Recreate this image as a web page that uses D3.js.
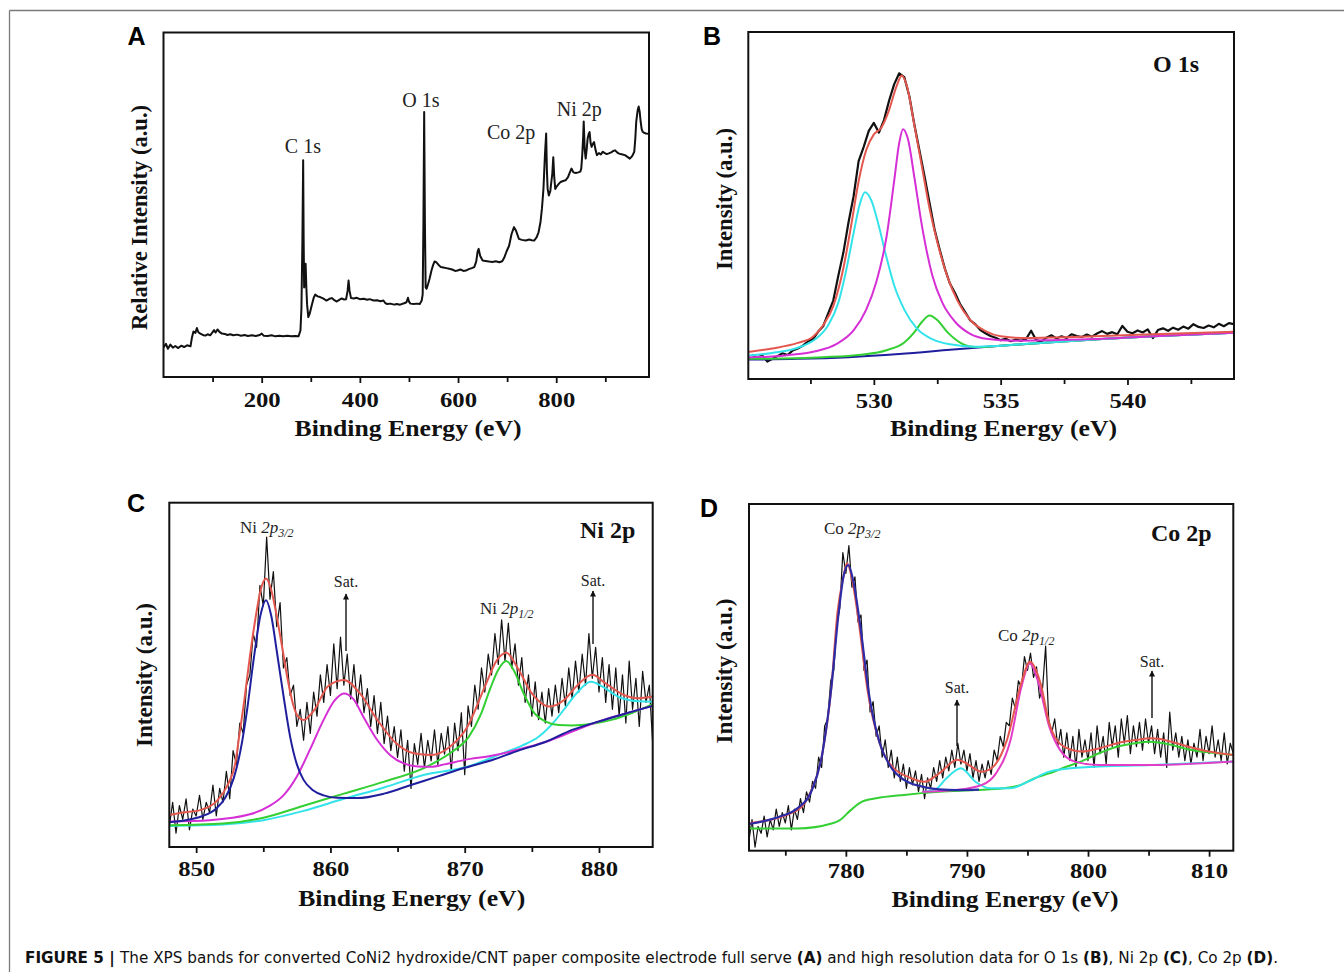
<!DOCTYPE html>
<html>
<head>
<meta charset="utf-8">
<script src="https://cdn.jsdelivr.net/npm/d3@7"></script>
<style>
  body { margin: 0; background: #fff; }
  svg { display: block; }
</style>
</head>
<body>
<svg id="fig" width="1344" height="972"></svg>
<script>
// ---------- Survey spectrum (A): [binding energy eV, relative intensity] ----------
const surveySpectrum = [[0,8.6],[5,9.6],[9,8.2],[14,9.4],[19,8.5],[24,9.0],[30,8.4],[36,9.1],[42,8.7],[48,9.2],[55,8.9],[58,11.5],[61,13.2],[65,12.8],[68,14.2],[71,13.0],[75,12.6],[80,12.2],[85,12.0],[90,12.4],[95,12.1],[99,12.8],[103,13.6],[106,12.9],[110,13.8],[114,13.1],[119,12.6],[125,12.5],[130,12.2],[136,12.4],[142,12.1],[150,12.3],[158,12.0],[165,12.2],[172,11.9],[180,12.1],[188,11.9],[196,12.2],[200,12.6],[204,12.0],[212,11.9],[220,12.1],[228,11.8],[236,12.0],[244,11.8],[252,12.0],[260,11.8],[268,11.9],[275,11.8],[279,13.5],[281,20],[283,40],[284.5,62.9],[285.5,40],[286.5,26],[288,27],[289.5,32.9],[291,26],[292.5,21],[295,17.4],[298,18.5],[302,20.8],[306,23],[309,23.9],[314,23.4],[319,23.2],[325,22.8],[332,22.2],[338,22.7],[343,22.9],[348,22.3],[353,21.9],[358,22.4],[363,22.8],[368,22.5],[372,22.6],[375,25],[377,28],[379,25],[382,22.9],[388,22.8],[393,23.0],[400,22.6],[408,22.7],[415,22.4],[420,22.6],[428,22.2],[435,22.3],[442,22.0],[448,22.2],[452,21.4],[456,21.2],[462,21.3],[470,21.0],[475,21.2],[482,21.0],[490,21.4],[495,21.7],[498,23.0],[500,21.9],[503,21.3],[510,21.2],[516,21.3],[522,21.2],[526,22.2],[528,24],[529.5,45],[531,76.9],[532.5,45],[534,26],[536,25.6],[539,27],[542,28.5],[546,31],[549,32.4],[552,33.5],[555,33.4],[560,32.6],[565,31.9],[570,31.8],[576,31.6],[582,31.4],[588,31.2],[594,30.8],[599,30.9],[605,31.2],[611,30.8],[616,30.9],[622,31.3],[628,31.6],[633,31.9],[637,33.5],[640,36.5],[642,37.2],[645,35.2],[650,33.8],[656,33.7],[663,33.5],[670,33.4],[677,33.6],[684,33.3],[690,33.6],[694,34.6],[699,36.5],[704,38.1],[709,41.5],[714,43.5],[718,42.5],[724,40.1],[730,39.8],[738,39.6],[745,39.9],[750,39.7],[755,39.6],[760,40.5],[764,42],[768,45],[771,49],[774,54.6],[777,64.4],[779.5,70.7],[781,60],[782.5,54.6],[785,52.7],[788,54],[790,56.6],[792,59],[794,63.8],[796,58],[798,54.6],[802,55.5],[806,56.2],[809,56.6],[814,56.9],[819,57.1],[824,58],[828,59.5],[831,60.5],[835,59.4],[840,59.2],[845,59.4],[849,59.6],[851,60.5],[853,64.4],[855,70],[856,74.2],[858,66],[860,63.4],[862,66],[864,69.2],[866,70.5],[868,71.1],[870,68],[872,66.8],[874,67.5],[877,68.2],[880,66],[883,64.4],[887,65],[891,64.6],[895,65.4],[899,65],[903,64.7],[907,64.9],[912,65.2],[916,65.6],[920,65.8],[924,65.2],[927,64.9],[931,64.7],[935,64.6],[940,64.4],[945,63.9],[950,63.4],[955,64.2],[959,65.4],[961,69],[963,74.1],[966,77.5],[968,78.5],[970,77],[972,74.1],[974,72],[976,71.2],[980,70.8],[983,70.7],[988,70.6]];
// peak names with the (energy, intensity) point at which each name sits
const surveyPeakLabels = [["C 1s",284,65],["O 1s",524.5,78.4],["Co 2p",708,69.1],["Ni 2p",847,75.8]];

// ---------- O 1s (B): measured counts on an even energy grid ----------
const o1sStart = 525.2, o1sStep = 0.2;
const o1sCounts = [7.0,6.2,6.8,5.0,5.8,6.6,7.4,6.9,8.2,8.8,9.6,10.8,11.5,13.6,15.2,18.9,22.6,29.8,36.5,45.1,52.6,62.8,66.9,71.5,73.8,71.0,74.6,80.2,84.9,88.1,87.0,81.5,73.2,65.8,58.4,50.6,42.9,37.2,31.8,27.5,24.8,21.6,19.3,16.9,15.8,14.1,13.2,12.4,11.9,11.2,11.6,10.9,11.4,11.0,11.5,13.9,11.2,10.8,11.9,12.6,11.7,12.3,11.8,12.9,12.4,12.1,12.8,12.2,13.1,13.8,13.0,13.5,12.9,15.3,13.6,13.2,14.0,13.4,14.3,11.8,14.1,14.6,13.9,14.8,14.2,15.1,14.5,15.8,15.0,14.7,15.4,14.9,15.9,15.2,16.1,15.8];
const o1sBackground = [[525.05,5.6],[527,5.8],[529,6.3],[531,7.2],[533,8.4],[535,9.6],[537,10.6],[539,11.5],[541,12.3],[544.2,13.3]];
const o1sPeakHigh = [[525.05,5.8],[528,6.3],[529.5,7],[530.5,8.3],[531.2,10.5],[531.6,13.5],[531.9,16.5],[532.2,18.3],[532.5,17],[532.9,13.5],[533.4,10.5],[534,9.2],[535,9.6],[537,10.6],[539,11.5],[541,12.3],[544.2,13.3]];
const o1sPeakLow = [[525.05,6.8],[526,7.5],[527,9],[527.7,11.5],[528.2,15.5],[528.6,22],[528.9,31],[529.2,42],[529.45,50.5],[529.65,53.8],[529.9,51.5],[530.2,44],[530.5,35],[530.8,27],[531.2,20],[531.7,14.5],[532.3,11.5],[533,10],[534,9.3],[535,9.6],[537,10.6],[539,11.5],[541,12.3],[544.2,13.3]];
const o1sPeakMid = [[525.05,6.2],[526.5,6.8],[527.7,8],[528.5,10],[529.2,14],[529.7,20],[530.1,28],[530.5,41],[530.8,57],[531.0,68],[531.15,72],[531.35,69],[531.6,58],[531.9,44],[532.3,30],[532.7,22],[533.2,16.5],[533.8,13],[534.5,11.5],[535.5,11],[537,11.2],[539,11.6],[541,12.3],[544.2,13.3]];
const o1sEnvelope = [[525.05,7.8],[526,8.8],[527,10.4],[527.6,12.2],[528.0,15.5],[528.4,21],[528.8,32],[529.1,44],[529.4,57],[529.7,66],[530.0,70.5],[530.3,72.5],[530.6,77.5],[530.9,84.5],[531.1,87.5],[531.3,84.5],[531.6,73],[531.9,61],[532.2,49],[532.5,39.5],[532.9,29.5],[533.3,22.5],[533.8,17],[534.4,13.8],[535,12.3],[536,11.8],[537.5,12],[539,12.4],[541,12.9],[544.2,13.6]];

// ---------- Ni 2p (C) ----------
const ni2pStart = 848, ni2pStep = 0.25;
const ni2pCounts = [6,13,4,12,8,14,5,11,9,15,8,13,10,18,9,17,13,22,14,28,24,36,33,47,50,62,58,76,70,90,72,80,64,71,52,55,44,47,35,40,31,42,33,45,38,50,42,53,44,59,46,61,47,56,43,53,41,50,39,46,35,44,33,42,30,38,28,35,26,34,22,31,17,30,24,33,23,31,25,34,24,33,27,35,22,36,28,39,21,41,35,47,40,52,45,56,50,62,53,66,54,65,52,59,47,55,42,50,38,48,37,45,36,46,38,47,39,49,41,52,43,54,45,56,47,62,49,58,45,55,42,53,40,52,38,50,36,54,40,49,35,51,42,47,30];
const ni2p32 = [[848,7.2],[849.5,8],[850.5,9],[851.5,11.2],[852.2,14.5],[852.8,20],[853.3,28],[853.8,40],[854.3,55],[854.8,67.5],[855.2,71.7],[855.6,67],[856.0,57],[856.5,44],[857.0,32],[857.5,24],[858.0,19.5],[858.7,16.5],[859.5,15],[860.5,14.3],[862,14.2],[864,15.5],[866,18],[868,20.5],[870,23],[872,25.2],[874,28],[876,30.5],[878,34],[880,36.5],[882,38.8],[884,41]];
const ni2pSat1 = [[848,7.4],[851,7.8],[854,9.5],[855.5,12],[856.5,15],[857.5,20.5],[858.5,28.5],[859.5,37],[860.3,42.5],[861,44.6],[861.7,43],[862.5,37.5],[863.5,31],[864.5,26.5],[865.5,24.2],[866.5,23.4],[867.5,23.3],[868.5,24],[870,25.3],[872,26.5],[874,28.3],[876,30.5],[878,33.5],[880,36.5],[882,38.8],[884,41]];
const ni2p12 = [[848,6.3],[852,6.8],[855,8.5],[858,12],[861,15.5],[864,19],[867,23],[869,27.5],[870.3,32],[871.2,38.5],[871.9,46],[872.5,51.5],[873.1,54],[873.7,51],[874.4,44.5],[875.2,38.8],[876,36.5],[877,35.4],[878,35.3],[879.5,35.8],[881,37],[882.5,39],[884,41.5]];
const ni2pSat2 = [[848,6.1],[852,6.5],[855,7.8],[858,10.5],[861,14],[864,17.3],[867,21],[870.2,23.3],[872.8,27.2],[874.3,29.5],[875.5,32],[876.8,37],[877.6,41],[878.3,44.5],[879.4,48],[880.3,46.5],[881.5,43.5],[883,42.3],[884,42.2]];
const ni2pEnvelope = [[848,9.3],[849,10],[850.3,10.7],[851.6,13.6],[852.4,18.5],[852.9,24],[853.2,32],[853.6,43],[854.0,55.3],[854.4,66],[854.8,74.6],[855.2,78],[855.6,74.6],[856.0,67],[856.4,58.2],[856.8,49],[857.2,41.7],[857.6,37.8],[858.0,36.9],[858.8,39.8],[859.8,46.6],[861.0,48.5],[862.2,44.6],[863.5,36.9],[864.9,30.1],[866.2,27.2],[867.5,26.7],[868.9,29.1],[870.2,34.9],[871.5,46.6],[872.4,54.3],[873.1,56.4],[873.9,52.3],[875.0,44.6],[876.3,40.8],[877.4,42.7],[878.4,47],[879.5,50],[880.5,47.5],[881.9,44.1],[882.9,43.2],[884,43.7]];

// ---------- Co 2p (D) ----------
const co2pStart = 772, co2pStep = 0.25;
const co2pCounts = [3,9,1,7,5,10,4,9,6,12,7,11,8,13,6,12,9,15,11,17,14,20,18,27,24,36,38,49,52,65,70,86,80,88,76,79,66,68,52,55,40,43,33,36,27,32,24,29,21,27,20,25,18,24,19,23,17,22,15,21,18,24,20,26,21,27,23,29,24,31,25,29,23,28,21,26,20,25,21,26,22,29,26,33,30,37,36,44,41,49,47,56,52,57,50,53,44,47,59,38,34,38,30,35,27,34,26,33,24,35,27,32,26,34,24,36,28,33,25,37,30,36,27,38,31,39,28,36,30,37,29,38,31,36,28,35,27,34,24,40,29,34,27,33,26,32,25,31,27,35,26,33,28,36,27,32,26,34,25,31,28];
const co2pBackground = [[772,6.4],[776,6.4],[778.9,7.9],[779.5,8.8],[780.4,11.7],[781.3,14.1],[782.5,15.1],[784.8,16.1],[787.7,17],[790.7,17.5],[793,18],[794.4,18.9],[795.6,20.9],[796.8,22.3],[798.2,24.2],[799.4,25.7],[800.9,28.1],[802.4,30],[803.9,31],[805.1,31.4],[806.8,30.6],[808.3,29.2],[810.1,28.3],[812,27.6]];
const co2pSat1 = [[786.3,17],[787.4,17.7],[788.3,20.9],[789.5,23.8],[790.7,19.9],[791.9,18],[793.6,18],[795.1,20],[796.8,22.8],[799.4,24],[805.3,24.7],[812,25.7]];
const co2p12 = [[786.3,17],[789,17.5],[791.2,18.9],[792.4,22.3],[793.6,31.9],[794.5,47.3],[795.2,54],[795.9,48.5],[796.8,35.8],[797.7,29],[798.9,25.7],[800.9,24.7],[805.3,24.7],[812,25.7]];
const co2pEnvelope = [[772,7.9],[776,11.7],[777.1,17],[778.0,27],[778.8,47],[779.3,68.5],[779.8,79],[780.1,82.9],[780.5,78.5],[781.1,65],[781.8,46],[782.7,32],[783.6,25.2],[785.4,20.9],[786.5,19.9],[787.7,22.3],[789.2,26.2],[789.8,25.5],[791.2,22.8],[792.1,24],[793.3,31.9],[794.5,48.5],[795.2,54.5],[796.1,48],[796.8,36.7],[798.0,30],[799.5,28.6],[800.9,29.5],[802.4,31],[803.9,31.9],[805.3,32.4],[806.8,31.5],[808.3,30],[810.0,28.6],[812,27.6]];
const co2p32 = [[772,7.7],[774.5,9.8],[776,12.2],[777.2,17.5],[778.0,27],[778.8,47],[779.4,68.5],[779.8,79],[780.2,82.4],[780.6,78],[781.2,64.6],[781.9,45.4],[782.8,31],[783.7,24.2],[784.8,20.4],[786.3,18.5],[787.7,17.7],[789.2,17.5],[791,17.6]];

// ---------- Axis ticks ----------
const surveyTicks = [200,400,600,800], surveyMinor = [100,300,500,700,900];
const o1sTicks = [530,535,540], o1sMinor = [527.5,532.5,537.5,542.5];
const ni2pTicks = [850,860,870,880], ni2pMinor = [855,865,875];
const co2pTicks = [780,790,800,810], co2pMinor = [775,785,795,805];

const SERIF = "'Liberation Serif','Times New Roman',Times,serif";
const SANS = "'Liberation Sans',Arial,Helvetica,sans-serif";
const COL = { black:"#111", red:"#e4574f", cyan:"#33e3ea", magenta:"#d52fd5", green:"#33cf33", blue:"#1f1f9e", indigo:"#2d2ca6", pink:"#e23dc6" };

const svg = d3.select("#fig");

// outer figure frame (top and left rules)
svg.append("line").attr("x1",9.5).attr("y1",10.5).attr("x2",1344).attr("y2",10.5).attr("stroke","#7a7a7a").attr("stroke-width",1.3);
svg.append("line").attr("x1",9.5).attr("y1",10.5).attr("x2",9.5).attr("y2",972).attr("stroke","#7a7a7a").attr("stroke-width",1.3);

// arrowhead marker pointing along the line direction
svg.append("defs").append("marker").attr("id", "arrow").attr("viewBox", "0 0 10 10")
  .attr("refX", 9).attr("refY", 5).attr("markerWidth", 8).attr("markerHeight", 6)
  .attr("markerUnits", "userSpaceOnUse").attr("orient", "auto")
  .append("path").attr("d", "M0,0 L10,5 L0,10 Z").attr("fill", "#111");

const gridPairs = (start, step, vals) => vals.map((v, i) => [start + i * step, v]);

function panel(cfg) {
  const g = svg.append("g");
  const b = cfg.box;
  const x = d3.scaleLinear().domain(cfg.xDomain).range([b.l, b.r]);
  const y = d3.scaleLinear().domain([0, 100]).range([b.b, b.t]);
  const clipId = "clip-" + cfg.id;
  svg.append("clipPath").attr("id", clipId).append("rect")
    .attr("x", b.l).attr("y", b.t).attr("width", b.r - b.l).attr("height", b.b - b.t);

  const plot = g.append("g").attr("clip-path", `url(#${clipId})`);
  cfg.series.forEach(s => {
    const line = d3.line().x(d => x(d[0])).y(d => y(d[1]))
      .curve(s.smooth ? d3.curveMonotoneX : d3.curveLinear);
    plot.append("path").datum(s.data).attr("d", line)
      .attr("fill", "none").attr("stroke", s.color).attr("stroke-width", s.width)
      .attr("stroke-linejoin", "round");
  });

  // frame
  g.append("rect").attr("x", b.l).attr("y", b.t).attr("width", b.r - b.l).attr("height", b.b - b.t)
    .attr("fill", "none").attr("stroke", "#111").attr("stroke-width", 2);

  // minor ticks
  const minorAxis = g.append("g").attr("transform", `translate(0,${b.b})`)
    .call(d3.axisBottom(x).tickValues(cfg.minor).tickSize(5).tickFormat(""));
  minorAxis.select(".domain").remove();
  minorAxis.selectAll("line").attr("stroke", "#111").attr("stroke-width", 1.8);
  // major ticks + labels
  const ax = g.append("g").attr("transform", `translate(0,${b.b})`)
    .call(d3.axisBottom(x).tickValues(cfg.ticks).tickSize(6).tickFormat(d3.format("d")));
  ax.select(".domain").remove();
  ax.selectAll("line").attr("stroke", "#111").attr("stroke-width", 1.8);
  ax.selectAll("text").attr("dy", null).attr("y", cfg.tickBase)
    .attr("font-family", SERIF).attr("font-weight", "bold").attr("font-size", 21)
    .attr("fill", "#111").attr("textLength", 37).attr("lengthAdjust", "spacingAndGlyphs");

  // axis titles
  g.append("text").attr("x", cfg.xTitle[0]).attr("y", cfg.xTitle[1]).attr("text-anchor", "middle")
    .attr("font-family", SERIF).attr("font-weight", "bold").attr("font-size", 24).attr("fill", "#111")
    .attr("textLength", 227).attr("lengthAdjust", "spacingAndGlyphs")
    .text("Binding Energy (eV)");
  g.append("text").attr("transform", `translate(${cfg.yTitle[0]},${cfg.yTitle[1]}) rotate(-90)`)
    .attr("text-anchor", "middle").attr("dy", "0.35em")
    .attr("font-family", SERIF).attr("font-weight", "bold").attr("font-size", 22.5).attr("fill", "#111")
    .attr("textLength", cfg.yTitle[3]).attr("lengthAdjust", "spacingAndGlyphs")
    .text(cfg.yTitle[2]);

  // panel letter
  g.append("text").attr("x", cfg.letter[1]).attr("y", cfg.letter[2])
    .attr("font-family", SANS).attr("font-weight", "bold").attr("font-size", 25).attr("fill", "#000")
    .text(cfg.letter[0]);

  // element label in the corner
  if (cfg.tag) {
    g.append("text").attr("x", cfg.tag[1]).attr("y", cfg.tag[2])
      .attr("font-family", SERIF).attr("font-weight", "bold").attr("font-size", 24).attr("fill", "#111")
      .text(cfg.tag[0]);
  }
  return { g, x, y };
}

// orbital label: "Ni 2p3/2" with italic 2p and a subscript
function orbitalLabel(g, x, y, el, sub) {
  const t = g.append("text").attr("x", x).attr("y", y).attr("font-family", SERIF)
    .attr("font-size", 17).attr("fill", "#222");
  t.append("tspan").text(el + " ");
  t.append("tspan").attr("font-style", "italic").text("2p");
  t.append("tspan").attr("font-style", "italic").attr("font-size", 12).attr("dy", 4).text(sub);
}
function satLabel(g, x, yText, yTop, yBottom) {
  g.append("text").attr("x", x).attr("y", yText).attr("text-anchor", "middle")
    .attr("font-family", SERIF).attr("font-size", 16).attr("fill", "#222").text("Sat.");
  g.append("line").attr("x1", x).attr("x2", x).attr("y1", yBottom).attr("y2", yTop)
    .attr("stroke", "#111").attr("stroke-width", 1.4).attr("marker-end", "url(#arrow)");
}

// ----- A: survey -----
const pA = panel({
  id: "a", box: { l: 163.5, r: 649, t: 32.5, b: 377 }, xDomain: [0, 989],
  ticks: surveyTicks, minor: surveyMinor, tickBase: 29.7,
  xTitle: [408, 436], yTitle: [139, 217.5, "Relative Intensity (a.u.)", 225],
  letter: ["A", 127.5, 45],
  series: [{ data: surveySpectrum, color: COL.black, width: 2 }]
});
surveyPeakLabels.forEach(([txt, e, v]) => {
  pA.g.append("text").attr("x", pA.x(e)).attr("y", pA.y(v)).attr("text-anchor", "middle")
    .attr("font-family", SERIF).attr("font-size", 20).attr("fill", "#222").text(txt);
});

// ----- B: O 1s -----
panel({
  id: "b", box: { l: 748.3, r: 1234, t: 32, b: 379 }, xDomain: [525.05, 544.2],
  ticks: o1sTicks, minor: o1sMinor, tickBase: 29,
  xTitle: [1003.5, 436], yTitle: [724, 199, "Intensity (a.u.)", 142],
  letter: ["B", 703, 45], tag: ["O 1s", 1153, 72],
  series: [
    { data: gridPairs(o1sStart, o1sStep, o1sCounts), color: COL.black, width: 2.2 },
    { data: o1sBackground, color: COL.blue, width: 2, smooth: true },
    { data: o1sPeakHigh, color: COL.green, width: 2, smooth: true },
    { data: o1sPeakLow, color: COL.cyan, width: 2, smooth: true },
    { data: o1sPeakMid, color: COL.magenta, width: 2, smooth: true },
    { data: o1sEnvelope, color: COL.red, width: 2, smooth: true }
  ]
});

// ----- C: Ni 2p -----
const pC = panel({
  id: "c", box: { l: 169.3, r: 652.7, t: 502.7, b: 847 }, xDomain: [848, 884],
  ticks: ni2pTicks, minor: ni2pMinor, tickBase: 29,
  xTitle: [411.7, 906], yTitle: [144, 675, "Intensity (a.u.)", 144],
  letter: ["C", 127, 512], tag: ["Ni 2p", 580, 538],
  series: [
    { data: gridPairs(ni2pStart, ni2pStep, ni2pCounts), color: COL.black, width: 1.2 },
    { data: ni2pSat2, color: COL.cyan, width: 2, smooth: true },
    { data: ni2p12, color: COL.green, width: 2, smooth: true },
    { data: ni2pSat1, color: COL.magenta, width: 2, smooth: true },
    { data: ni2p32, color: COL.blue, width: 2, smooth: true },
    { data: ni2pEnvelope, color: COL.red, width: 2, smooth: true }
  ]
});
orbitalLabel(pC.g, 240, 533, "Ni", "3/2");
orbitalLabel(pC.g, 480, 614, "Ni", "1/2");
satLabel(pC.g, 346, 587, 594, 651);
satLabel(pC.g, 593, 586, 591, 644);

// ----- D: Co 2p -----
const pD = panel({
  id: "d", box: { l: 749, r: 1233.3, t: 504, b: 850.7 }, xDomain: [772, 812],
  ticks: co2pTicks, minor: co2pMinor, tickBase: 27.3,
  xTitle: [1005, 907], yTitle: [724, 671, "Intensity (a.u.)", 145],
  letter: ["D", 700, 517], tag: ["Co 2p", 1151, 541],
  series: [
    { data: gridPairs(co2pStart, co2pStep, co2pCounts), color: COL.black, width: 1.2 },
    { data: co2pBackground, color: COL.green, width: 2, smooth: true },
    { data: co2pSat1, color: COL.cyan, width: 2, smooth: true },
    { data: co2p12, color: COL.pink, width: 2, smooth: true },
    { data: co2pEnvelope, color: COL.red, width: 2, smooth: true },
    { data: co2p32, color: COL.indigo, width: 2.2, smooth: true }
  ]
});
orbitalLabel(pD.g, 824, 534, "Co", "3/2");
orbitalLabel(pD.g, 998, 641, "Co", "1/2");
satLabel(pD.g, 957, 693, 700, 746);
satLabel(pD.g, 1152, 667, 671, 718);

// ----- caption -----
const cap = svg.append("text").attr("x", 25).attr("y", 963)
  .attr("font-family", "'Liberation Sans Narrow','DejaVu Sans Condensed',Arial,sans-serif")
  .attr("font-size", 16.5).attr("fill", "#111")
  .attr("textLength", 1253).attr("lengthAdjust", "spacingAndGlyphs");
[["FIGURE 5 | ", true], ["The XPS bands for converted CoNi2 hydroxide/CNT paper composite electrode full serve ", false],
 ["(A)", true], [" and high resolution data for O 1s ", false], ["(B)", true], [", Ni 2p ", false],
 ["(C)", true], [", Co 2p ", false], ["(D)", true], [".", false]]
  .forEach(([s, bold]) => cap.append("tspan").attr("font-weight", bold ? "bold" : "normal").text(s));
</script>
</body>
</html>
